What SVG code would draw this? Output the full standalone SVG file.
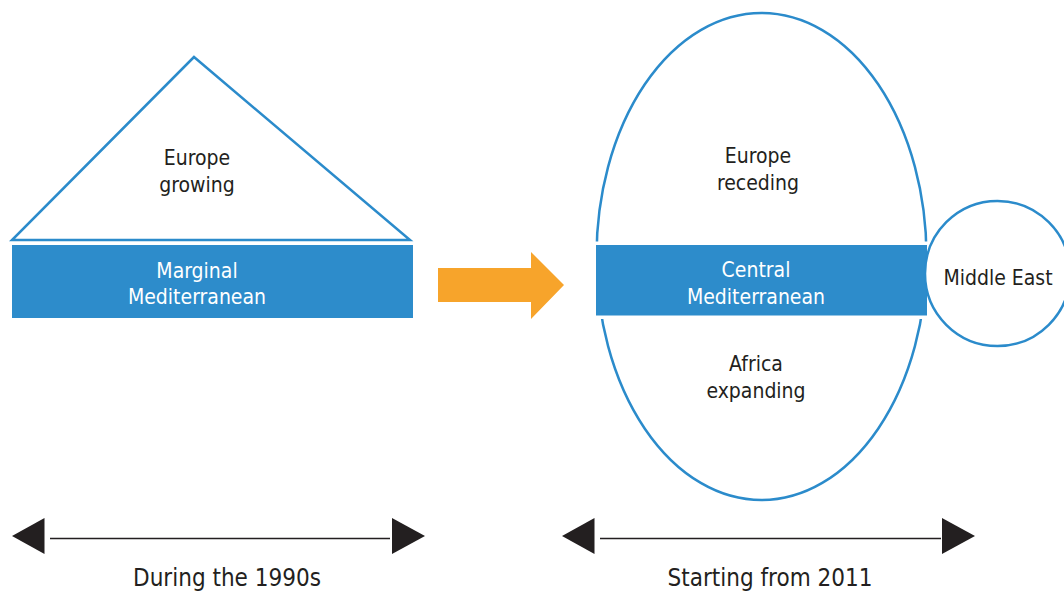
<svg xmlns="http://www.w3.org/2000/svg" width="1064" height="594" viewBox="0 0 1064 594">
<style>
.outline{fill:#fff;stroke:#2b8bcb;stroke-width:2.5}
.band{fill:#2d8ccb}
.gap{fill:#fff}
.lbl{font-family:"DejaVu Sans Condensed","DejaVu Sans",sans-serif;font-stretch:condensed;font-size:21px;text-anchor:middle;fill:#231f20}
.wlbl{fill:#fff}
.cap{font-size:24px}
.tri{fill:#231f20}
.axis{stroke:#231f20;stroke-width:1.5}
</style>
<rect width="1064" height="594" fill="#fff"/>
<g id="europe-growing">
<polygon class="outline" points="194,57 12,240 410,240"/>
<text class="lbl" x="197" y="165">Europe</text>
<text class="lbl" x="197" y="192">growing</text>
</g>
<g id="marginal-mediterranean">
<rect class="band" x="12" y="245" width="401" height="73"/>
<text class="lbl wlbl" x="197" y="278">Marginal</text>
<text class="lbl wlbl" x="197" y="304">Mediterranean</text>
</g>
<g id="transition-arrow">
<polygon fill="#f7a42b" points="438,268 531,268 531,252 564,285 531,319 531,302 438,302"/>
</g>
<g id="egg">
<ellipse class="outline" cx="761.5" cy="256.5" rx="165" ry="243.5"/>
<text class="lbl" x="758" y="163">Europe</text>
<text class="lbl" x="758" y="190">receding</text>
<text class="lbl" x="756" y="371">Africa</text>
<text class="lbl" x="756" y="398">expanding</text>
</g>
<g id="central-mediterranean">
<rect class="gap" x="593" y="241.5" width="336" height="77.5"/>
<rect class="band" x="596" y="245" width="331" height="70.5"/>
<text class="lbl wlbl" x="756" y="277">Central</text>
<text class="lbl wlbl" x="756" y="304">Mediterranean</text>
</g>
<g id="middle-east">
<circle class="outline" cx="997.5" cy="273.5" r="72.5"/>
<text class="lbl" x="998" y="285">Middle East</text>
</g>
<g id="connectors">
<line class="axis" x1="50" y1="538.5" x2="390" y2="538.5"/>
<polygon class="tri" points="12,536 44.5,518 44.5,554"/>
<polygon class="tri" points="425,536 392,518 392,554"/>
<line class="axis" x1="600" y1="538.5" x2="941" y2="538.5"/>
<polygon class="tri" points="562,536 594.5,518 594.5,554"/>
<polygon class="tri" points="975,536 942,518 942,554"/>
</g>
<g id="captions">
<text class="lbl cap" x="227" y="586">During the 1990s</text>
<text class="lbl cap" x="770" y="586">Starting from 2011</text>
</g>
</svg>
